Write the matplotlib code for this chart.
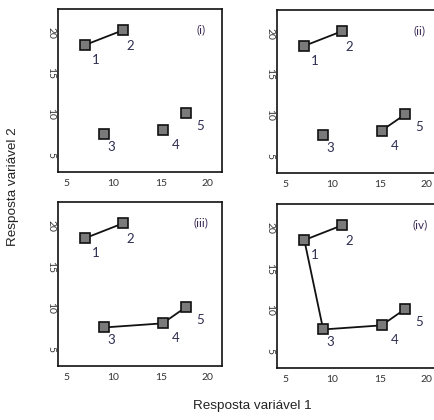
import numpy as np
import matplotlib.pyplot as plt

# five objects measured on two responses
ids = ['1', '2', '3', '4', '5']
resp1 = [7.0, 11.0, 9.0, 15.2, 17.7]
resp2 = [18.5, 20.3, 7.6, 8.1, 10.1]

# successive linkage stages, each a list of chains of object indices
panel_names = ['(i)', '(ii)', '(iii)', '(iv)']
chains = [
    [[0, 1]],
    [[0, 1], [3, 4]],
    [[0, 1], [2, 3, 4]],
    [[1, 0, 2, 3, 4]],
]

# label offsets (pixels) from each square
label_off = [(10, -15), (7, -16), (7, -13), (13, -15), (14, -13)]

xticks = [5, 10, 15, 20]
yticks = [5, 10, 15, 20]

W, H = 435, 420
fig = plt.figure(figsize=(W / 100, H / 100), dpi=100)

# axes boxes in pixels: left, top, width, height (right column runs off the edge)
boxes = [(58, 9, 164, 163), (277, 10, 164, 163),
         (58, 202, 164, 164), (277, 204, 164, 164)]

num_col = '#2e2e50'
for k, (l, t, w, h) in enumerate(boxes):
    ax = fig.add_axes([l / W, 1 - (t + h) / H, w / W, h / H])
    for ch in chains[k]:
        ax.plot([resp1[i] for i in ch], [resp2[i] for i in ch],
                color='#111111', lw=1.3, zorder=2)
    ax.plot(resp1, resp2, 's', ms=7.5, mfc='#7a7a7a', mec='#111111',
            mew=1.2, ls='none', zorder=3)
    for i, lab in enumerate(ids):
        ax.annotate(lab, (resp1[i], resp2[i]), xytext=label_off[i],
                    textcoords='offset pixels', ha='center', va='center',
                    fontsize=9.5, color=num_col, family='Lato')
    ax.text(0.87, 0.875, panel_names[k], transform=ax.transAxes,
            ha='center', va='center', fontsize=8.5, color='#3c2a55',
            family='Lato')
    ax.set_xlim(4.1, 21.5)
    ax.set_ylim(2.9, 22.9)
    ax.set_xticks(xticks)
    ax.set_yticks(yticks)
    ax.set_xticklabels([str(v) for v in xticks], family='Lato',
                       fontsize=7.5, color='#333333')
    ax.set_yticklabels([str(v) for v in yticks], family='Lato',
                       fontsize=7.5, color='#333333', rotation=-90,
                       va='center')
    ax.tick_params(axis='x', length=0, pad=5)
    ax.tick_params(axis='y', length=0, pad=2)
    for sp in ax.spines.values():
        sp.set_linewidth(1.2)
        sp.set_color('#111111')

fig.text(252 / W, 1 - 406 / H, 'Resposta variável 1', ha='center',
         va='center', fontsize=9.7, family='Liberation Sans', color='#222222')
fig.text(13 / W, 1 - 187 / H, 'Resposta variável 2', ha='center',
         va='center', rotation=90, fontsize=9.7, family='Liberation Sans',
         color='#222222')

fig.savefig('out.png', dpi=100)
